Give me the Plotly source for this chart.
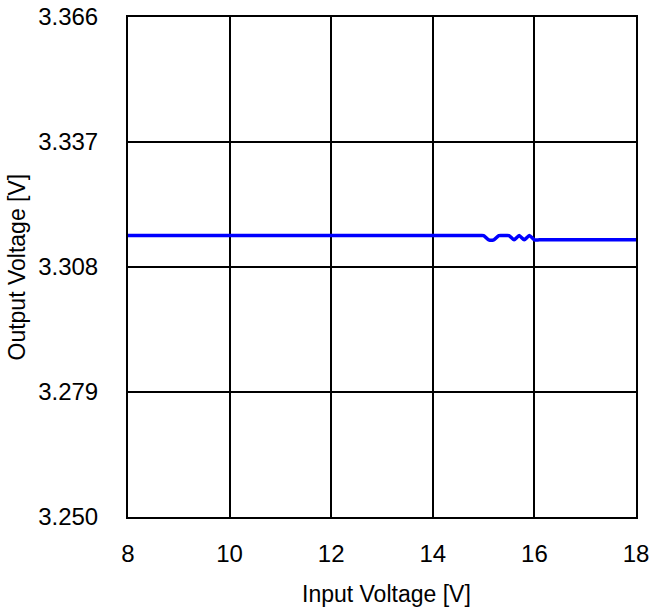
import plotly.graph_objects as go

x_vals = [8.0, 14.9, 15.0, 15.1, 15.2, 15.3, 15.4, 15.5,
          15.6, 15.7, 15.8, 15.9, 16.0, 16.1, 18.0]
v_out = [3.3153, 3.3153, 3.3153, 3.3143, 3.3143, 3.3153, 3.3153, 3.3153,
         3.3143, 3.3153, 3.3143, 3.3153, 3.3143, 3.3143, 3.3143]
x_ticks = [8, 10, 12, 14, 16, 18]
y_ticks = [3.250, 3.279, 3.308, 3.337, 3.366]
y_tick_labels = ["3.250", "3.279", "3.308", "3.337", "3.366"]
x_title = "Input Voltage [V]"
y_title = "Output Voltage [V]"

fig = go.Figure()
fig.add_trace(go.Scatter(x=x_vals, y=v_out, mode="lines",
                         line=dict(color="#0000FF", width=3.5, shape="spline", smoothing=0.5),
                         showlegend=False))

fam = "Liberation Sans, Arial, sans-serif"
tickfont = dict(family=fam, size=24, color="black")
titlefont = dict(family=fam, size=23, color="black")

L, R, T, B = 128, 13, 17, 92
W, H = 649, 609
plot_w = W - L - R
plot_h = H - T - B

fig.update_layout(
    width=W, height=H,
    margin=dict(l=L, r=R, t=T, b=B, autoexpand=False),
    paper_bgcolor="white", plot_bgcolor="white",
    font=dict(family=fam, color="black", size=20),
    xaxis=dict(range=[8, 18], tickvals=x_ticks, showgrid=True, gridcolor="black", gridwidth=1.5,
               showline=True, linecolor="black", linewidth=2, mirror=True, zeroline=False,
               ticks="", ticklabelstandoff=14, tickfont=tickfont, automargin=False,
               ticklabeloverflow="allow"),
    yaxis=dict(range=[3.250, 3.366], tickvals=y_ticks, ticktext=y_tick_labels, showgrid=True,
               gridcolor="black", gridwidth=1.5,
               showline=True, linecolor="black", linewidth=2, mirror=True, zeroline=False,
               ticks="", ticklabelstandoff=23, tickfont=tickfont, automargin=False,
               ticklabeloverflow="allow"),
    annotations=[
        dict(text=x_title, xref="paper", yref="paper",
             x=(386 - L) / plot_w, y=-(594 - (H - B)) / plot_h,
             xanchor="center", yanchor="middle", showarrow=False, font=titlefont),
        dict(text=y_title, xref="paper", yref="paper", textangle=-90,
             x=(16.5 - L) / plot_w, y=0.5,
             xanchor="center", yanchor="middle", showarrow=False, font=titlefont),
    ],
)
fig.write_html("out.html", config={"displayModeBar": False},
               post_script="document.body.style.margin='0';document.body.style.padding='0';")
